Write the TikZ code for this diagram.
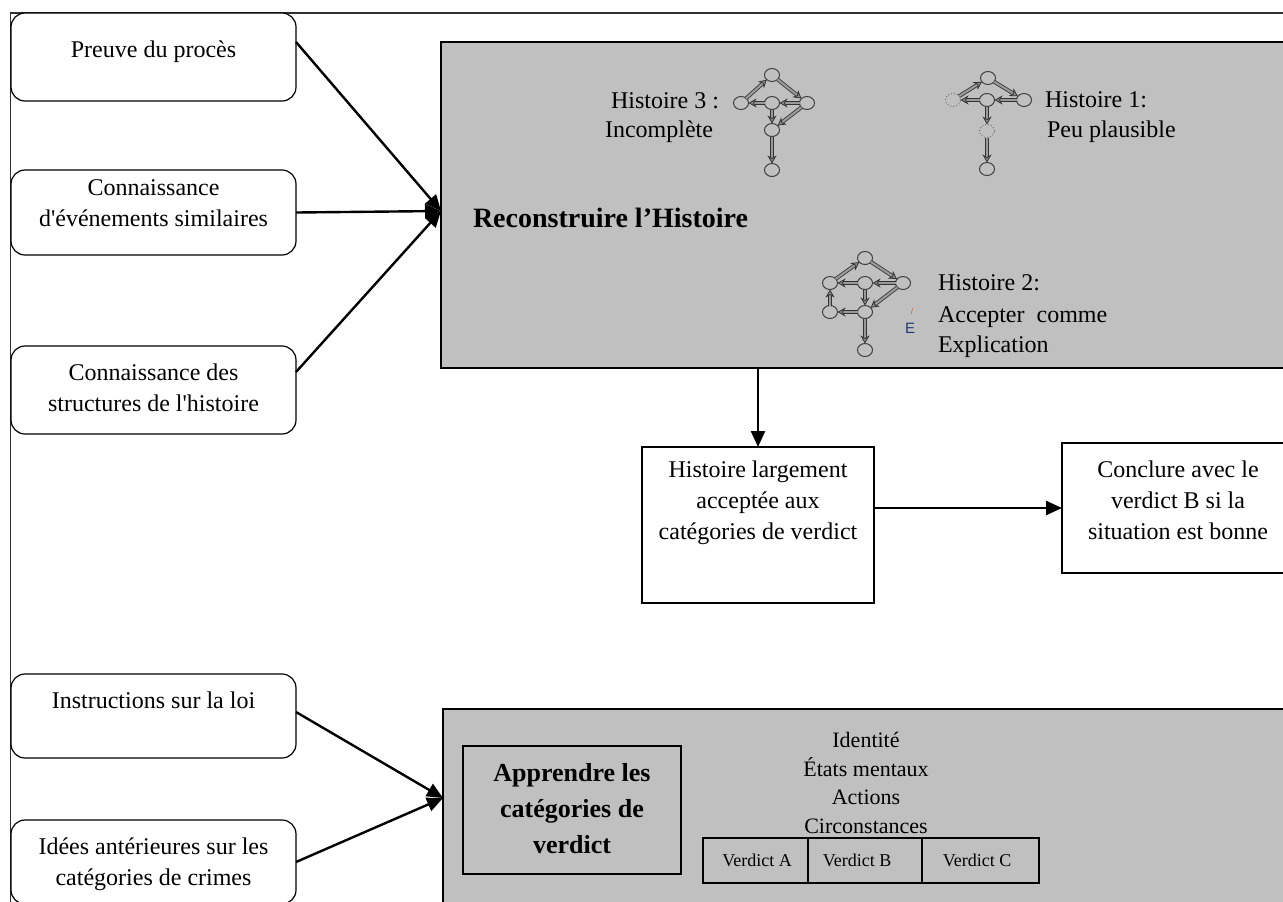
\documentclass[tikz,border=0pt]{standalone}
\usepackage{fontspec}
\setmainfont{Liberation Serif}
\newfontfamily\sansE{Liberation Sans}
\usetikzlibrary{arrows.meta,calc,shapes.geometric}
\definecolor{panel}{HTML}{C0C0C0}
\definecolor{frameline}{HTML}{303030}
\definecolor{navy}{HTML}{1F3A73}
\definecolor{orangish}{HTML}{C06020}
\newcommand{\apos}{\textquotesingle}
\begin{document}
\begin{tikzpicture}[x=0.5pt,y=-0.5pt,
  every node/.style={inner sep=0pt, outer sep=0pt},
  txt/.style={font=\fontsize{12}{15.5}\selectfont, align=center},
  smalltxt/.style={font=\fontsize{9}{11}\selectfont},
  midtxt/.style={font=\fontsize{11}{14.3}\selectfont, align=center},
  roundbox/.style={draw, line width=0.6pt, rounded corners=7pt, minimum width=142.5pt, fill=white},
  plainbox/.style={draw, line width=0.9pt, fill=white},
  panelbox/.style={draw, line width=0.9pt, fill=panel},
  cellbox/.style={draw, line width=0.8pt, minimum height=22.5pt},
  arr/.style={line width=1.2pt, -{Triangle[length=8pt,width=7pt]}},
  gnode/.style={ellipse, draw=black!75, line width=0.5pt, minimum width=7.5pt, minimum height=6.5pt},
  gdot/.style={gnode, draw=black!55, densely dotted},
  dedge/.style={draw=black!80, line width=0.4pt, double=black!40, double distance=1.1pt,
                -{Stealth[length=4pt,width=4.5pt,fill=black!45]}}
]
\clip (0,0) rectangle (1283,901);

% outer frame (left and top sides)
\draw[frameline, line width=0.9pt] (10.5,910) -- (10.5,13) -- (1300,13);

% input boxes on the left
\node[roundbox, minimum height=44pt] (p1) at (153.5,57) {};
\node[txt] (p1t) at (153.5,52) {Preuve du procès};
\node[roundbox, minimum height=42.5pt] (p2) at (153.5,212.5) {};
\node[txt] (p2t) at (153.5,203) {Connaissance\\d\apos événements similaires};
\node[roundbox, minimum height=44pt] (p3) at (153.5,390) {};
\node[txt] (p3t) at (153.5,387.5) {Connaissance des\\structures de l\apos histoire};
\node[roundbox, minimum height=42pt] (p4) at (153.5,716) {};
\node[txt] (p4t) at (153.5,700) {Instructions sur la loi};
\node[roundbox, minimum height=42pt] (p5) at (153.5,862) {};
\node[txt] (p5t) at (153.5,864) {Idées antérieures sur les\\catégories de crimes};

% upper panel: story reconstruction
\node[panelbox, minimum width=429.5pt, minimum height=163pt] (rec) at (870.5,205) {};
\node[font=\bfseries\fontsize{14}{17}\selectfont, anchor=west] (rect) at (473,218) {Reconstruire l’Histoire};

% story 3
\node[gnode] (h3t) at (772,75) {};
\node[gnode] (h3l) at (741,103) {};
\node[gnode] (h3c) at (772,103) {};
\node[gnode] (h3r) at (807,103) {};
\node[gnode] (h3m) at (772,130) {};
\node[gnode] (h3b) at (772,170) {};
\draw[dedge] (h3l) -- (h3t);
\draw[dedge] (h3t) -- (h3r);
\draw[dedge] (h3r) -- (h3c);
\draw[dedge] (h3c) -- (h3l);
\draw[dedge] (h3c) -- (h3m);
\draw[dedge] (h3r) -- (h3m);
\draw[dedge] (h3m) -- (h3b);
\node[txt, anchor=east] (h3a) at (719,101) {Histoire 3 :};
\node[txt, anchor=east] (h3s) at (713,132) {Incomplète};

% story 1
\node[gnode] (h1t) at (988,78) {};
\node[gdot] (h1l) at (953,100) {};
\node[gnode] (h1c) at (987,100) {};
\node[gnode] (h1r) at (1024,100) {};
\node[gdot] (h1m) at (987,131) {};
\node[gnode] (h1b) at (987,169) {};
\draw[dedge] (h1l) -- (h1t);
\draw[dedge] (h1t) -- (h1r);
\draw[dedge] (h1r) -- (h1c);
\draw[dedge] (h1c) -- (h1l);
\draw[dedge] (h1c) -- (h1m);
\draw[dedge] (h1m) -- (h1b);
\node[txt, anchor=west] (h1a) at (1045,100) {Histoire 1:};
\node[txt, anchor=west] (h1s) at (1047,132) {Peu plausible};

% story 2
\node[gnode] (h2t) at (865,258) {};
\node[gnode] (h2a) at (830,283) {};
\node[gnode] (h2c) at (865,283) {};
\node[gnode] (h2r) at (903,283) {};
\node[gnode] (h2d) at (830,312) {};
\node[gnode] (h2e) at (865,312) {};
\node[gnode] (h2b) at (865,350) {};
\draw[dedge] (h2a) -- (h2t);
\draw[dedge] (h2t) -- (h2r);
\draw[dedge] (h2r) -- (h2c);
\draw[dedge] (h2c) -- (h2a);
\draw[dedge] (h2c) -- (h2e);
\draw[dedge] (h2r) -- (h2e);
\draw[dedge] (h2d) -- (h2a);
\draw[dedge] (h2e) -- (h2d);
\draw[dedge] (h2e) -- (h2b);
\node[font=\sansE\fontsize{4}{4}\selectfont, text=orangish] (h2x) at (912,312) {/};
\node[font=\sansE\fontsize{7.5}{8}\selectfont, text=navy] (h2y) at (910,328) {E};
\node[txt, anchor=west] (h2l1) at (938,283) {Histoire 2:};
\node[txt, anchor=west] (h2l2) at (938,317) {Accepter\ \ comme};
\node[txt, anchor=west] (h2l3) at (938,347) {Explication};

% verdict steps
\node[plainbox, minimum width=116pt, minimum height=78pt] (hl) at (758,525) {};
\node[txt] (hlt) at (758,503) {Histoire largement\\acceptée aux\\catégories de verdict};
\node[plainbox, minimum width=116.5pt, minimum height=65pt] (con) at (1178.5,508) {};
\node[txt] (cont) at (1178,500) {Conclure avec le\\verdict B si la\\situation est bonne};

% lower panel: verdict categories
\node[panelbox, minimum width=428.5pt, minimum height=110.5pt] (cat) at (871.5,819.5) {};
\node[draw, line width=0.9pt, minimum width=109pt, minimum height=64pt] (app) at (572,810) {};
\node[font=\bfseries\fontsize{13}{18}\selectfont, align=center] (appt) at (572,809) {Apprendre les\\catégories de\\verdict};
\node[midtxt] (attr) at (866,783) {Identité\\États mentaux\\Actions\\Circonstances};
\node[cellbox, minimum width=52.5pt] (va) at (755.5,860.5) {};
\node[cellbox, minimum width=57pt] (vb) at (865,860.5) {};
\node[cellbox, minimum width=58.5pt] (vc) at (980.5,860.5) {};
\node[smalltxt] (vat) at (757,860) {Verdict A};
\node[smalltxt] (vbt) at (857,860) {Verdict B};
\node[smalltxt] (vct) at (977,860) {Verdict C};

% connectors
\coordinate (rin) at ($(rec.west)+(0,6)$);
\coordinate (cin) at (443,798);
\draw[arr] ($(p1.east)+(0,-15)$) -- (rin);
\draw[arr] (p2.east) -- (rin);
\draw[arr] ($(p3.east)+(0,-18)$) -- (rin);
\draw[arr] ($(p4.east)+(0,-4)$) -- (cin);
\draw[arr] (p5.east) -- (cin);
\draw[arr] (hl.north |- rec.south) -- (hl.north);
\draw[arr] (hl.east |- con.west) -- (con.west);
\end{tikzpicture}
\end{document}
